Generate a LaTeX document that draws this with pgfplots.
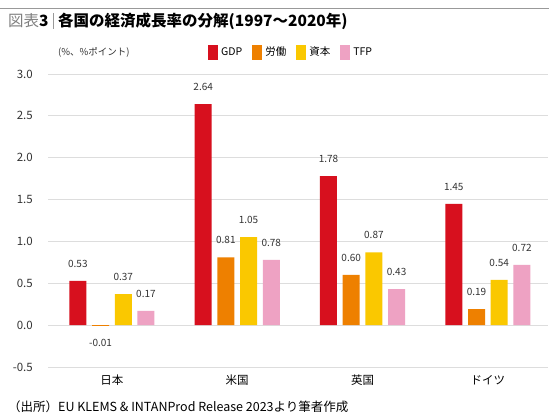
\documentclass[border=0pt]{standalone}
\usepackage{fontspec}
\setmainfont{Noto Sans CJK JP}
\usepackage{pgfplots}
\pgfplotsset{compat=1.18}
\definecolor{cGDP}{HTML}{D7101E}
\definecolor{cLab}{HTML}{EE8000}
\definecolor{cCap}{HTML}{FAC800}
\definecolor{cTFP}{HTML}{EEA2C3}
\definecolor{gridc}{HTML}{DDDDDD}
\definecolor{txt}{HTML}{333333}
\begin{document}
\begin{tikzpicture}[x=1pt,y=1pt]
\useasboundingbox (0,0) rectangle (555,420);
\fill[white] (0,0) rectangle (555,420);
\draw[gray!80, line width=0.8pt] (0,412) -- (549,412);
\node[anchor=base west, inner sep=0] at (8,393) {\fontsize{15.5}{15.5}\selectfont{\color{gray}図表}\textbf{3}};
\draw[gray!80, line width=0.6pt] (53,391) -- (53,407);
\node[anchor=base west, inner sep=0] at (58,393) {\fontsize{15.5}{15.5}\selectfont\bfseries 各国の経済成長率の分解(1997～2020年)};
\node[anchor=west, inner sep=0, text=txt] at (58,368) {\fontsize{9.5}{9.5}\selectfont (\%、\%ポイント)};
\node[anchor=base west, inner sep=0] at (8,8) {\fontsize{12.5}{12.5}\selectfont （出所）EU KLEMS \& INTANProd Release 2023より筆者作成};
\begin{axis}[
  at={(48pt,53pt)}, anchor=south west,
  scale only axis, width=500pt, height=293pt,
  xmin=-0.51, xmax=3.48, ymin=-0.5, ymax=3.0,
  axis line style={draw=none}, major tick length=0pt,
  ytick={-0.5,0,0.5,1,1.5,2,2.5,3},
  ymajorgrids, grid style={color=gridc, line width=0.8pt},
  xtick={0,1,2,3}, xticklabels={日本,米国,英国,ドイツ},
  /pgf/number format/assume math mode=true,
  yticklabel={\pgfmathprintnumber[fixed,precision=1,zerofill]{\tick}},
  yticklabel style={anchor=east, inner sep=0pt, xshift=-15pt, text=txt, font=\fontsize{11.5}{11.5}\selectfont},
  xticklabel style={anchor=north, inner sep=0pt, yshift=-8pt, font=\fontsize{11.5}{11.5}\selectfont},
  ybar=5.7pt, bar width=17pt,
  point meta=y,
  nodes near coords={\pgfmathprintnumber[fixed,precision=2,zerofill]{\pgfplotspointmeta}},
  nodes near coords align={vertical},
  nodes near coords style={font=\fontsize{10}{10}\selectfont, text=txt, inner ysep=13pt},
  legend image code/.code={\fill[#1,draw=none] (0pt,-7.5pt) rectangle (10pt,7.5pt);},
  legend columns=-1,
  legend style={at={(0.32,1.075)}, anchor=west, draw=none, fill=none, inner sep=0pt,
    font=\fontsize{10.5}{10.5}\selectfont,
    nodes={inner xsep=0pt},
    /tikz/every odd column/.append style={column sep=3pt},
    /tikz/every even column/.append style={column sep=10pt}},
]
\addplot[fill=cGDP, draw=none] coordinates {(0,0.53) (1,2.64) (2,1.78) (3,1.45)};
\addplot[fill=cLab, draw=none] coordinates {(0,-0.01) (1,0.81) (2,0.60) (3,0.19)};
\addplot[fill=cCap, draw=none] coordinates {(0,0.37) (1,1.05) (2,0.87) (3,0.54)};
\addplot[fill=cTFP, draw=none] coordinates {(0,0.17) (1,0.78) (2,0.43) (3,0.72)};
\legend{GDP,労働,資本,TFP}
\end{axis}
\end{tikzpicture}
\end{document}
